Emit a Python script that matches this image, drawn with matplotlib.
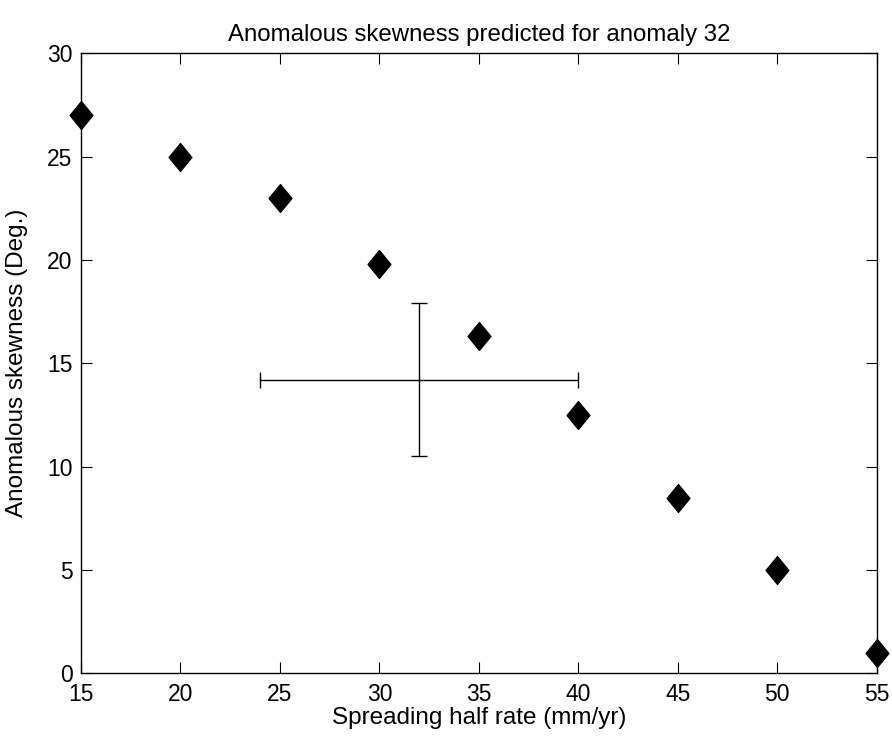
import numpy as np
import matplotlib.pyplot as plt
from matplotlib.path import Path

plt.rcParams['font.family'] = ['Liberation Sans', 'DejaVu Sans']

# Data
rate = [15, 20, 25, 30, 35, 40, 45, 50, 55]
skew = [27.0, 25.0, 23.0, 19.8, 16.3, 12.5, 8.5, 5.0, 1.0]

# Error cross for anomaly 32
obs_rate = [32]
obs_skew = [14.2]
obs_rate_err = [8]
obs_skew_err = [3.7]

xticks = [15, 20, 25, 30, 35, 40, 45, 50, 55]
yticks = [0, 5, 10, 15, 20, 25, 30]

# MATLAB-style diamond (wider than matplotlib's 'd')
diamond = Path([(0, 1), (0.82, 0), (0, -1), (-0.82, 0), (0, 1)],
               [Path.MOVETO, Path.LINETO, Path.LINETO, Path.LINETO, Path.CLOSEPOLY])

fig = plt.figure(figsize=(8.92, 7.36), dpi=100)
ax = fig.add_axes([0.0908, 0.0852, 0.892, 0.8424])

ax.plot(rate, skew, linestyle='none', marker=diamond, markersize=20,
        color='black', clip_on=False, zorder=3)
ax.errorbar(obs_rate, obs_skew, xerr=obs_rate_err, yerr=obs_skew_err,
            fmt='none', ecolor='black', elinewidth=1.0, capsize=6, capthick=1.0)

ax.set_xlim(15, 55)
ax.set_ylim(0, 30)
ax.set_xticks(xticks)
ax.set_yticks(yticks)
ax.tick_params(direction='in', top=True, right=True, length=8, width=0.8,
               labelsize=16.5)
ax.tick_params(axis='x', pad=7)
ax.tick_params(axis='y', pad=6)
for s in ax.spines.values():
    s.set_linewidth(1.0)

ax.set_title('Anomalous skewness predicted for anomaly 32', fontsize=17.3, pad=9)
ax.set_xlabel('Spreading half rate (mm/yr)', fontsize=17.5, labelpad=1)
ax.set_ylabel('Anomalous skewness (Deg.)', fontsize=17.5, labelpad=14)

fig.savefig('out.png', dpi=100)
